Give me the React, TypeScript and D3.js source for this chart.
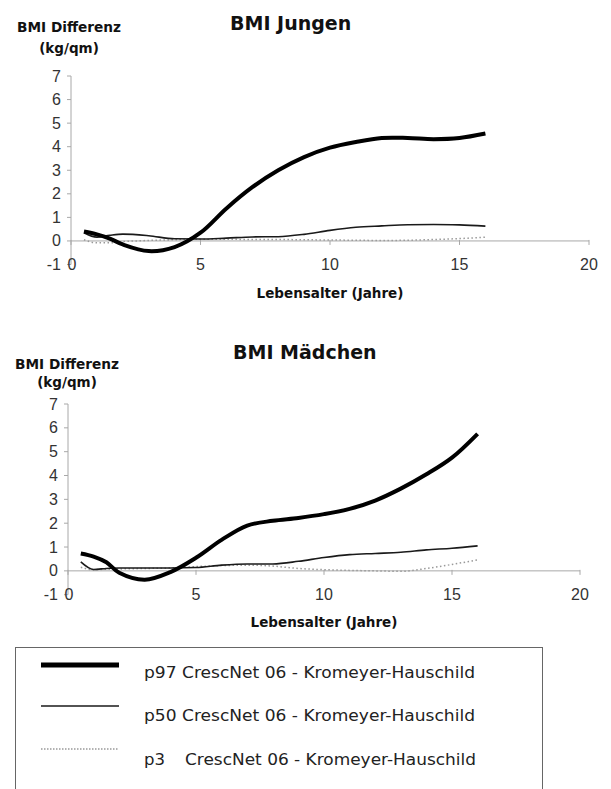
import React from "react";
import * as d3 from "d3";

const ages = [0.5, 1, 1.5, 2, 3, 4, 5, 6, 7, 8, 9, 10, 11, 12, 13, 14, 15, 16];

const boysP97 = [0.4, 0.28, 0.1, -0.15, -0.43, -0.26, 0.35, 1.38, 2.28, 3.0, 3.56, 3.96, 4.2, 4.37, 4.37, 4.32, 4.37, 4.56];
const boysP50 = [0.35, 0.16, 0.24, 0.29, 0.22, 0.09, 0.08, 0.12, 0.17, 0.18, 0.28, 0.45, 0.58, 0.64, 0.69, 0.7, 0.68, 0.63];
const boysP3 = [0.05, -0.08, -0.08, -0.03, 0.02, 0.05, 0.07, 0.07, 0.06, 0.06, 0.05, 0.04, 0.03, 0.02, 0.03, 0.06, 0.1, 0.16];

const girlsP97 = [0.73, 0.6, 0.36, -0.08, -0.37, -0.05, 0.55, 1.3, 1.9, 2.1, 2.22, 2.38, 2.6, 2.95, 3.45, 4.05, 4.75, 5.75];
const girlsP50 = [0.38, 0.06, 0.1, 0.12, 0.12, 0.12, 0.14, 0.24, 0.29, 0.29, 0.4, 0.56, 0.68, 0.73, 0.78, 0.88, 0.95, 1.05];
const girlsP3 = [0.15, 0.05, 0.07, 0.08, 0.1, 0.12, 0.18, 0.22, 0.24, 0.2, 0.1, 0.05, 0.02, 0.0, -0.02, 0.1, 0.27, 0.46];

const xTicks = [0, 5, 10, 15, 20];
const yTicks = [-1, 0, 1, 2, 3, 4, 5, 6, 7];

const titles = ["BMI Jungen", "BMI Mädchen"];
const yTitle1 = "BMI Differenz";
const yTitle2 = "(kg/qm)";
const xTitle = "Lebensalter (Jahre)";
const legendKeys = ["p97", "p50", "p3"];
const legendRest = "CrescNet 06 - Kromeyer-Hauschild";

const AXIS = "#a8a8a8";
const TICKTXT = "#333";
const BOLD = "'DejaVu Sans', Verdana, sans-serif";
const NUM = "'Liberation Sans', Arial, sans-serif";

type PanelProps = {
  title: string;
  p97: number[];
  p50: number[];
  p3: number[];
  xr: [number, number];
  yr: [number, number];
  titleX: number;
  titleY: number;
  ytX: number;
  ytY: number;
  ytY2: number;
  xtY: number;
};

function Panel(props: PanelProps) {
  const { title, p97, p50, p3, xr, yr, titleX, titleY, ytX, ytY, ytY2, xtY } = props;
  const x = d3.scaleLinear().domain([0, 20]).range(xr);
  const y = d3.scaleLinear().domain([-1, 7]).range(yr);
  const smooth = d3
    .line<[number, number]>()
    .x((d) => x(d[0]))
    .y((d) => y(d[1]))
    .curve(d3.curveCatmullRom.alpha(0.5));
  const mono = d3
    .line<[number, number]>()
    .x((d) => x(d[0]))
    .y((d) => y(d[1]))
    .curve(d3.curveMonotoneX);
  const pts = (vals: number[]) => ages.map((a, i) => [a, vals[i]] as [number, number]);
  const y0 = y(0);
  const xAxisX = x(0);
  return (
    <g>
      <text x={titleX} y={titleY} fontFamily={BOLD} fontWeight="bold" fontSize={19} fill="#111">
        {title}
      </text>
      <text x={ytX} y={ytY} fontFamily={BOLD} fontWeight="bold" fontSize={13.5} textLength={104} lengthAdjust="spacingAndGlyphs" fill="#111">
        {yTitle1}
      </text>
      <text x={ytX + 52} y={ytY2} textAnchor="middle" fontFamily={BOLD} fontWeight="bold" fontSize={13.5} fill="#111">
        {yTitle2}
      </text>
      <line x1={xAxisX} x2={xAxisX} y1={y(7)} y2={y(-1)} stroke={AXIS} strokeWidth={1} />
      {yTicks.map((t) => (
        <g key={"yt" + t}>
          <line x1={xAxisX - 4} x2={xAxisX} y1={y(t)} y2={y(t)} stroke={AXIS} strokeWidth={1} />
          <text x={xAxisX - 10} y={y(t) + 5.5} textAnchor="end" fontFamily={NUM} fontSize={16} fill={TICKTXT}>
            {t}
          </text>
        </g>
      ))}
      <line x1={x(0)} x2={x(20)} y1={y0} y2={y0} stroke={AXIS} strokeWidth={1} />
      {xTicks.map((t) => (
        <g key={"xt" + t}>
          <line x1={x(t)} x2={x(t)} y1={y0 - 1} y2={y0 + 4} stroke={AXIS} strokeWidth={1} />
          <text x={x(t) + (t === 0 ? 1 : 0)} y={y(-1) + 5.5} textAnchor="middle" fontFamily={NUM} fontSize={16} fill={TICKTXT}>
            {t}
          </text>
        </g>
      ))}
      <text x={(xr[0] + xr[1]) / 2} y={xtY} textAnchor="middle" fontFamily={BOLD} fontWeight="bold" fontSize={13.5} fill="#111">
        {xTitle}
      </text>
      <path d={mono(pts(p3)) || ""} fill="none" stroke="#999" strokeWidth={1.5} strokeDasharray="1.5 2.5" />
      <path d={mono(pts(p50)) || ""} fill="none" stroke="#1a1a1a" strokeWidth={1.6} />
      <path d={smooth(pts(p97)) || ""} fill="none" stroke="#000" strokeWidth={4} strokeLinejoin="round" />
    </g>
  );
}

export default function App() {
  const legendY = [665, 706, 749];
  const textY = [678, 721, 765];
  return (
    <svg width={611} height={789} style={{ position: "absolute", left: 0, top: 0, background: "#fff" }}>
      <rect x={0} y={0} width={611} height={789} fill="#fff" />
      <Panel
        title={titles[0]}
        p97={boysP97}
        p50={boysP50}
        p3={boysP3}
        xr={[71, 589]}
        yr={[264.5, 76]}
        titleX={230}
        titleY={29.5}
        ytX={17}
        ytY={32}
        ytY2={53}
        xtY={298}
      />
      <Panel
        title={titles[1]}
        p97={girlsP97}
        p50={girlsP50}
        p3={girlsP3}
        xr={[68, 580]}
        yr={[594.7, 404]}
        titleX={233}
        titleY={359}
        ytX={15}
        ytY={368.5}
        ytY2={387}
        xtY={627}
      />
      <rect x={15.5} y={647.5} width={527} height={200} fill="none" stroke="#666" strokeWidth={1} />
      <line x1={41} x2={119} y1={legendY[0]} y2={legendY[0]} stroke="#000" strokeWidth={5} />
      <line x1={41} x2={119} y1={legendY[1]} y2={legendY[1]} stroke="#1a1a1a" strokeWidth={1.6} />
      <line x1={41} x2={119} y1={legendY[2]} y2={legendY[2]} stroke="#999" strokeWidth={1.5} strokeDasharray="1.5 1.5" />
      {legendKeys.map((k, i) =>
        i < 2 ? (
          <text key={k} x={144} y={textY[i]} fontFamily={BOLD} fontSize={16.5} fill="#222" textLength={331} lengthAdjust="spacingAndGlyphs">
            {k + " " + legendRest}
          </text>
        ) : (
          <g key={k}>
            <text x={144} y={textY[i]} fontFamily={BOLD} fontSize={16.5} fill="#222">
              {k}
            </text>
            <text x={185} y={textY[i]} fontFamily={BOLD} fontSize={16.5} fill="#222" textLength={291} lengthAdjust="spacingAndGlyphs">
              {legendRest}
            </text>
          </g>
        )
      )}
    </svg>
  );
}
